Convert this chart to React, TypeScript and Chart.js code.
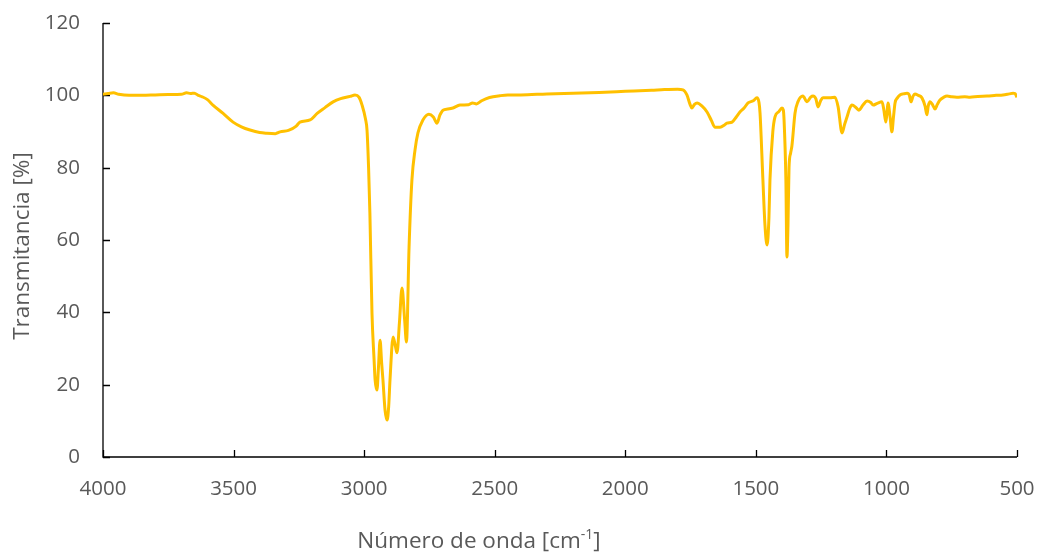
import React, { useEffect, useRef } from "react";
import { Chart, registerables } from "chart.js";

Chart.register(...registerables);

const wavenumbers = [
  4000, 3980, 3960, 3940, 3900, 3850, 3800, 3750, 3700, 3680, 3665, 3650, 3635, 3620, 3600, 3579, 3540, 3502, 3470, 3437,
  3400, 3372, 3340, 3322, 3290, 3260, 3246, 3207, 3180, 3150, 3119, 3090, 3054, 3035, 3020, 3008, 2995, 2989, 2983, 2978,
  2970, 2962, 2958, 2951, 2945, 2939, 2933, 2928, 2920, 2912, 2906, 2901, 2889, 2880, 2874, 2865, 2855, 2845, 2838, 2828,
  2817, 2805, 2794, 2775, 2752, 2735, 2721, 2710, 2698, 2680, 2660, 2633, 2600, 2585, 2570, 2550, 2520, 2480, 2450, 2400,
  2300, 2200, 2100, 2000, 1900, 1850, 1800, 1779, 1764, 1752, 1745, 1735, 1725, 1706, 1687, 1670, 1657, 1637, 1620, 1611,
  1591, 1575, 1561, 1545, 1530, 1510, 1496, 1488, 1484, 1473, 1465, 1457, 1450, 1446, 1435, 1427, 1412, 1400, 1395, 1392,
  1385, 1381, 1377, 1373, 1367, 1362, 1350, 1339, 1320, 1304, 1290, 1281, 1270, 1262, 1252, 1243, 1216, 1197, 1185, 1170,
  1160, 1151, 1140, 1132, 1115, 1105, 1090, 1074, 1060, 1051, 1035, 1017, 1010, 1002, 997, 994, 986, 979, 973, 967,
  958, 948, 935, 921, 912, 906, 898, 891, 878, 864, 852, 845, 840, 833, 824, 814, 805, 795, 780, 768,
  750, 730, 700, 680, 650, 615, 580, 554, 530, 515, 508, 500,
];

const transmittance = [
  100.3, 100.5, 100.7, 100.3, 100.0, 100.0, 100.1, 100.2, 100.3, 100.7, 100.5, 100.6, 100.0, 99.6, 98.8, 97.3, 95.0, 92.6, 91.3, 90.4,
  89.7, 89.5, 89.4, 89.9, 90.3, 91.5, 92.6, 93.2, 95.0, 96.6, 98.2, 99.1, 99.7, 100.1, 99.5, 97.3, 93.5, 90.4, 80.0, 67.5,
  39.8, 27.0, 21.3, 18.5, 25.0, 32.3, 26.0, 21.3, 13.0, 10.2, 14.0, 21.3, 33.2, 30.5, 28.8, 37.0, 46.7, 38.0, 31.8, 58.0,
  76.6, 85.0, 89.6, 93.2, 94.8, 94.0, 92.3, 94.5, 95.9, 96.2, 96.5, 97.3, 97.4, 97.9, 97.6, 98.5, 99.4, 99.9, 100.1, 100.1,
  100.4, 100.6, 100.8, 101.1, 101.4, 101.6, 101.7, 101.5, 100.1, 97.5, 96.5, 97.5, 97.9, 97.0, 95.4, 93.0, 91.2, 91.2, 91.8, 92.3,
  92.6, 94.0, 95.4, 96.5, 97.9, 98.5, 99.3, 98.0, 95.1, 76.6, 64.0, 58.6, 66.0, 76.6, 90.0, 94.0, 95.5, 96.5, 96.0, 93.2,
  76.6, 55.3, 64.0, 80.0, 84.0, 86.0, 95.1, 98.2, 99.8, 98.2, 99.5, 99.8, 99.0, 96.8, 98.5, 99.3, 99.3, 99.5, 96.8, 89.6,
  92.0, 94.0, 96.5, 97.3, 96.5, 95.9, 97.3, 98.4, 98.0, 97.3, 97.8, 98.2, 96.0, 92.6, 96.0, 97.9, 94.0, 89.9, 94.0, 97.9,
  99.3, 100.1, 100.4, 100.6, 100.0, 98.2, 99.8, 100.4, 100.0, 99.3, 97.0, 94.6, 97.0, 98.2, 97.5, 96.2, 97.5, 98.7, 99.5, 99.8,
  99.6, 99.5, 99.6, 99.5, 99.7, 99.8, 100.0, 100.1, 100.4, 100.6, 100.5, 99.5,
];

const xTickValues = [4000, 3500, 3000, 2500, 2000, 1500, 1000, 500];
const yTickValues = [0, 20, 40, 60, 80, 100, 120];

const xTitleMain = "Número de onda [cm";
const xTitleSup = "-1";
const xTitleEnd = "]";
const yTitle = "Transmitancia [%]";

const FONT = "'Open Sans', sans-serif";
const TEXT_COLOR = "#595959";
const LINE_COLOR = "#FFC000";

function zeroPadding(s: any) {
  s.paddingTop = 0;
  s.paddingBottom = 0;
  s.paddingLeft = 0;
  s.paddingRight = 0;
}

export default function App() {
  const ref = useRef<HTMLCanvasElement>(null);

  useEffect(() => {
    const axisPlugin = {
      id: "axisDraw",
      beforeDatasetsDraw(chart: any) {
        const { ctx, chartArea, scales } = chart;
        const xs = scales.x;
        const ys = scales.y;
        ctx.save();
        ctx.strokeStyle = "#000000";
        ctx.lineWidth = 1.3;
        ctx.beginPath();
        ctx.moveTo(chartArea.left, chartArea.top);
        ctx.lineTo(chartArea.left, chartArea.bottom);
        ctx.lineTo(chartArea.right, chartArea.bottom);
        ctx.stroke();
        ctx.beginPath();
        for (const v of xTickValues) {
          const px = Math.round(xs.getPixelForValue(v)) + 0.5;
          ctx.moveTo(px, chartArea.bottom);
          ctx.lineTo(px, chartArea.bottom - 7);
        }
        for (const v of yTickValues) {
          const py = Math.round(ys.getPixelForValue(v)) + 0.5;
          ctx.moveTo(chartArea.left, py);
          ctx.lineTo(chartArea.left + 7, py);
        }
        ctx.stroke();
        ctx.restore();
      },
      afterDraw(chart: any) {
        const { ctx } = chart;
        ctx.save();
        ctx.fillStyle = TEXT_COLOR;
        const mainFont = `22.5px ${FONT}`;
        const supFont = `14px ${FONT}`;
        ctx.font = mainFont;
        const w1 = ctx.measureText(xTitleMain).width;
        const w3 = ctx.measureText(xTitleEnd).width;
        ctx.font = supFont;
        const w2 = ctx.measureText(xTitleSup).width;
        const total = w1 + w2 + w3;
        const cx = 479;
        const baseY = 548;
        let x = cx - total / 2;
        ctx.textBaseline = "alphabetic";
        ctx.textAlign = "left";
        ctx.font = mainFont;
        ctx.fillText(xTitleMain, x, baseY);
        x += w1;
        ctx.font = supFont;
        ctx.fillText(xTitleSup, x, baseY - 9);
        x += w2;
        ctx.font = mainFont;
        ctx.fillText(xTitleEnd, x, baseY);
        ctx.translate(23, 246);
        ctx.rotate(-Math.PI / 2);
        ctx.textAlign = "center";
        ctx.textBaseline = "middle";
        ctx.font = mainFont;
        ctx.fillText(yTitle, 0, 0);
        ctx.restore();
      },
    };

    const chart = new Chart(ref.current as HTMLCanvasElement, {
      type: "line",
      data: {
        datasets: [
          {
            data: wavenumbers.map((w, i) => ({ x: w, y: transmittance[i] })),
            borderColor: LINE_COLOR,
            borderWidth: 3,
            pointRadius: 0,
            fill: false,
            cubicInterpolationMode: "monotone",
          } as any,
        ],
      },
      options: {
        animation: false,
        responsive: false,
        maintainAspectRatio: false,
        layout: { padding: { top: 23, right: 23, left: 0, bottom: 0 } },
        plugins: {
          legend: { display: false },
          tooltip: { enabled: false },
        },
        scales: {
          x: {
            type: "linear",
            reverse: true,
            min: 500,
            max: 4000,
            afterBuildTicks: (s: any) => {
              s.ticks = xTickValues.map((v) => ({ value: v }));
            },
            afterFit: (s: any) => {
              s.height = 96;
              zeroPadding(s);
            },
            grid: { display: false, drawTicks: false },
            border: { display: false },
            ticks: {
              color: TEXT_COLOR,
              font: { family: FONT, size: 20.5 },
              padding: 20,
              maxRotation: 0,
              autoSkip: false,
              callback: (v: any) => String(v),
            },
          },
          y: {
            type: "linear",
            min: 0,
            max: 120,
            afterBuildTicks: (s: any) => {
              s.ticks = yTickValues.map((v) => ({ value: v }));
            },
            afterFit: (s: any) => {
              s.width = 103;
              zeroPadding(s);
            },
            grid: { display: false, drawTicks: false },
            border: { display: false },
            ticks: {
              color: TEXT_COLOR,
              font: { family: FONT, size: 20.5 },
              padding: 23,
              autoSkip: false,
              callback: (v: any) => String(v),
            },
          },
        },
      },
      plugins: [axisPlugin],
    });
    return () => chart.destroy();
  }, []);

  return (
    <div style={{ position: "fixed", left: 0, top: 0, width: 1040, height: 553, background: "#ffffff" }}>
      <canvas ref={ref} width={1040} height={553} style={{ display: "block", width: 1040, height: 553 }} />
    </div>
  );
}
